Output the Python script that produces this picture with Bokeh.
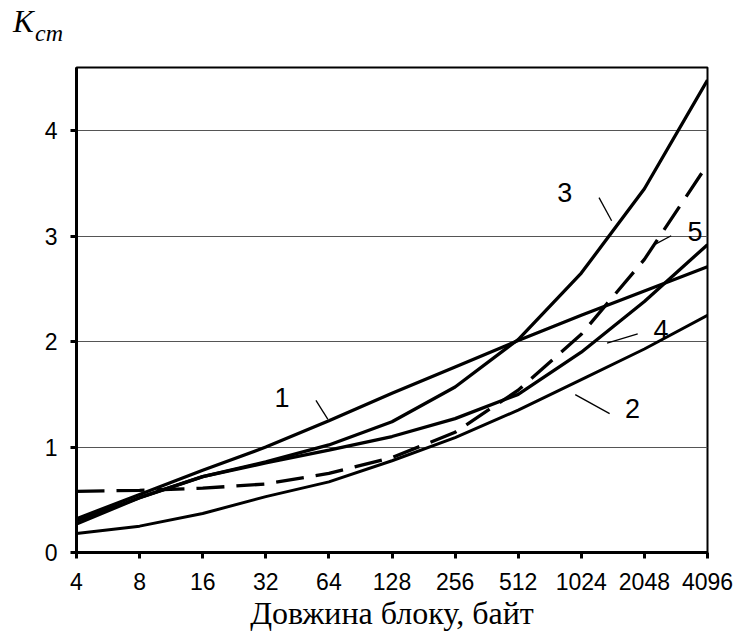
from bokeh.plotting import figure
from bokeh.models import FixedTicker, Label, Range1d, Div
from bokeh.layouts import column
from bokeh.embed import file_html
from bokeh.resources import INLINE

# ---- data ----
block_sizes = [4, 8, 16, 32, 64, 128, 256, 512, 1024, 2048, 4096]
tick_labels = ["4", "8", "16", "32", "64", "128", "256", "512", "1024", "2048", "4096"]
curve1 = [0.32, 0.55, 0.78, 1.00, 1.25, 1.51, 1.76, 2.01, 2.25, 2.48, 2.71]
curve2 = [0.18, 0.25, 0.37, 0.53, 0.67, 0.87, 1.09, 1.35, 1.64, 1.93, 2.25]
curve3 = [0.27, 0.52, 0.72, 0.86, 1.02, 1.24, 1.57, 2.02, 2.65, 3.45, 4.48]
curve4 = [0.30, 0.52, 0.72, 0.85, 0.97, 1.10, 1.27, 1.50, 1.90, 2.38, 2.92]
curve5 = [0.58, 0.59, 0.61, 0.65, 0.75, 0.90, 1.14, 1.54, 2.07, 2.78, 3.68]
y_ticks = [0, 1, 2, 3, 4]

W = 738

# ---- strip above the chart holding the y-axis title K_cm ----
title_div = Div(
    text=('<div style="position:relative;width:738px;height:65px;color:black;">'
          '<span style="position:absolute;left:13px;top:6px;line-height:1;'
          'font-family:\'Liberation Serif\';font-style:italic;font-size:31px;">K</span>'
          '<span style="position:absolute;left:35px;top:21px;line-height:1;'
          'font-family:\'Liberation Serif\';font-style:italic;font-size:24px;">cm</span>'
          '</div>'),
    width=W, height=65, margin=(0, 0, 0, 0))

# ---- main chart ----
p = figure(width=W, height=575, x_axis_type="log",
           x_range=Range1d(4, 4096), y_range=Range1d(0, 4.6),
           output_backend="svg", toolbar_location=None,
           min_border_left=76, min_border_right=31,
           min_border_top=2, min_border_bottom=88)
p.background_fill_color = "white"
p.border_fill_color = "white"
p.outline_line_color = "black"
p.outline_line_width = 2

for ax in (p.xaxis[0], p.yaxis[0]):
    ax.axis_line_width = 3
    ax.axis_line_color = "black"
    ax.major_tick_line_width = 3
    ax.major_tick_line_color = "black"
    ax.major_tick_out = 6
    ax.major_tick_in = 0
    ax.minor_tick_line_color = None
    ax.major_label_text_font = "Liberation Sans"
    ax.major_label_text_font_size = "23px"
    ax.major_label_text_color = "black"

p.xaxis.ticker = FixedTicker(ticks=block_sizes)
p.xaxis.major_label_overrides = {b: t for b, t in zip(block_sizes, tick_labels)}
p.xaxis.major_label_standoff = 14
p.xaxis.axis_label = "Довжина блоку, байт"
p.xaxis.axis_label_text_font = "Liberation Serif"
p.xaxis.axis_label_text_font_style = "normal"
p.xaxis.axis_label_text_font_size = "32px"
p.xaxis.axis_label_text_color = "black"
p.xaxis.axis_label_standoff = 2

p.yaxis.ticker = FixedTicker(ticks=y_ticks)
p.yaxis.major_label_standoff = 13

p.xgrid.grid_line_color = None
p.ygrid.ticker = FixedTicker(ticks=y_ticks)
p.ygrid.grid_line_color = "#555555"
p.ygrid.grid_line_width = 1

# curves
p.line(block_sizes, curve2, line_color="black", line_width=3)
p.line(block_sizes, curve4, line_color="black", line_width=3.3)
p.line(block_sizes, curve3, line_color="black", line_width=3.3)
p.line(block_sizes, curve1, line_color="black", line_width=3.3)
p.line(block_sizes, curve5, line_color="black", line_width=3.3, line_dash="28 12")

# curve labels with pointer lines
labels = [("1", 38.2, 1.47, (55.5, 63.3), (1.443, 1.263)),
          ("2", 1795, 1.367, (958, 1398), (1.497, 1.317)),
          ("3", 854, 3.415, (1244, 1429), (3.366, 3.146)),
          ("4", 2456, 2.114, (1903, 1359), (2.074, 1.985)),
          ("5", 3571, 3.042, (2748, 2312), (3.004, 2.925))]
for t, lx, ly, px, py in labels:
    p.add_layout(Label(x=lx, y=ly, text=t, text_font="Liberation Sans",
                       text_font_size="27px", text_align="center",
                       text_baseline="middle", text_color="black"))
    p.line(list(px), list(py), line_color="black", line_width=1.3)

layout = column(title_div, p, spacing=0)
open("out.html", "w").write(file_html(layout, INLINE))
